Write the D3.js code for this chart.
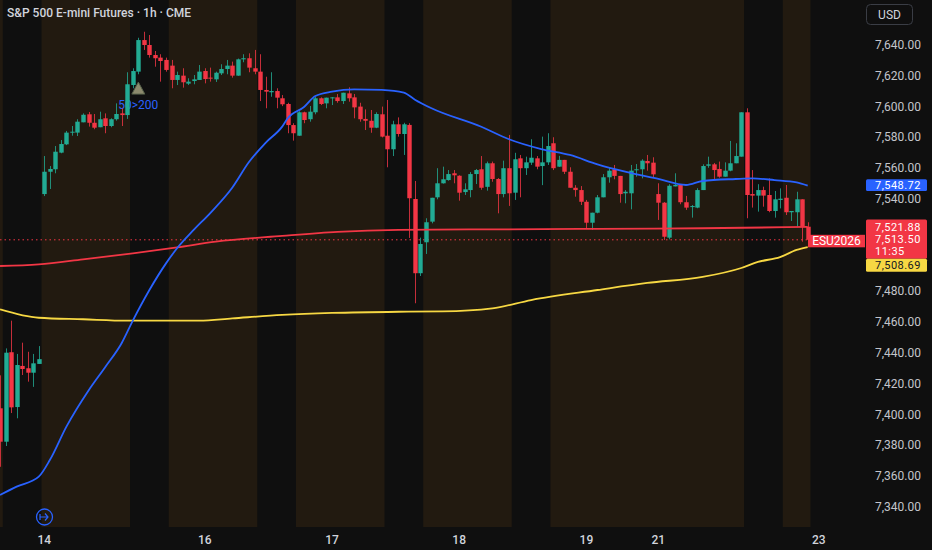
<!DOCTYPE html>
<html><head><meta charset="utf-8">
<script src="https://cdn.jsdelivr.net/npm/d3@7"></script>
<style>html,body{margin:0;padding:0;background:#0f0f0f;overflow:hidden}</style>
</head><body><svg id="c" width="932" height="550"></svg>
<script>
// ---------- DATA ----------
const firstIndex = -8; // index of first (partially visible) candle
const opens = [7404.1,7382.4,7440.5,7404.9,7431.6,7430.1,7427.2,7432.9,
7543.2,7557.7,7559.3,7570.1,7575.5,7583.1,7583.1,7589.8,7595,7589.5,7586.6,7592.4,7587.4,7591.8,7595.6,7594.5,
7614,7622.7,7643.2,7640,7633.5,7631.8,7630.3,
7626.6,7617.3,7620.1,7614.9,7616.6,7617.3,7623.1,7618.8,7617.7,7621.6,7624.4,7626.6,7620.1,7630.7,7631.4,7624.9,
7622.7,7610.8,7609.3,7610.1,7605.4,7601.7,7588,
7581.1,7596.3,7591.8,7596.3,7605.4,7602.1,7605.6,7606,7603.6,7608.6,7606,7600,7592,7590.8,7586.3,7595,
7581.1,7572.3,7588.5,7582.2,7588.1,7540,7491.8,
7511.9,7525.3,7541.1,7550.2,7552.3,7556.7,7555.1,7544.5,7545.8,7556.2,7559.3,7547.9,7563.2,7553,7543.2,7560,
7544.1,7566.4,7560,7563.6,7566.4,7561.4,7563.8,
7576.2,7561,7565.4,7557.7,7547.3,7545.8,7538.2,7524.6,7531.1,7541.1,7554.1,7559.3,7555,7543.7,7543.7,7558.8,7559.3,7564.7,7563.6,
7543.2,7537.6,7514.9,7548.2,7549.6,7537.9,7535,7534.4,7545.8,7561.6,7562.5,7559.5,7554.5,7558.4,7563.2,7567.5,
7596.3,7543.2,7542.2,7545.8,7542.6,7532.2,7539.4,
7540.8,7531.4,7531.4,7539.8,7522];
const highs = [7425.5,7443,7461,7439.4,7446.7,7440.8,7439.4,7444.5,
7567.9,7561.4,7574.4,7578.3,7584.2,7587.4,7591.8,7595.6,7596.5,7595.2,7596.7,7595.6,7592.4,7602.1,7598.9,7622.3,
7624.9,7644.7,7648.6,7646.5,7636.1,7634,7631.8,
7630.3,7622.7,7624.9,7618.4,7620.5,7627,7624.9,7625.3,7622.7,7627.5,7630.3,7629.2,7631.2,7634,7634.6,7636.8,
7634,7619.4,7622.3,7611.9,7607.5,7602.5,7589.2,
7597,7596.7,7600.4,7606.4,7606,7605.8,7606.2,7608.2,7609,7612.5,7608.2,7602.5,7598.2,7597.8,7596.3,7600,
7604.3,7590.8,7593,7589.5,7589.2,7551.7,7514.9,
7527.5,7540.8,7560,7561,7558.8,7558.8,7555.4,7550.2,7557.5,7559.5,7567.9,7564.3,7564.3,7553.6,7564.9,7581.6,
7570,7568.6,7567.5,7578.8,7567.9,7580.5,7582.7,
7580.1,7568,7565.4,7560.6,7549,7548.4,7539.4,7531.1,7542.6,7556.2,7560.6,7562.1,7555,7545.8,7562.1,7562.7,7565.8,7568.6,7567.1,
7550.2,7538,7549.6,7556.7,7549.6,7542,7536.1,7547,7562.5,7567.5,7563.4,7564.3,7563.8,7577.7,7576.2,7596.3,
7598.9,7558.8,7549.6,7548,7553.4,7545.2,7546.9,
7549.1,7532.2,7544.7,7539.8,7524.9];
const lows = [7366.1,7379.6,7401,7397.6,7425.7,7421.4,7418,7432.9,
7541.9,7546.5,7556.7,7569.7,7575,7581.1,7580.9,7589.8,7587,7585.3,7586.6,7582.7,7586.6,7590.9,7587.4,7592,
7611.9,7621,7636.8,7631.8,7625.9,7616.2,7622.7,
7611.9,7614,7612.3,7614,7614.5,7617.3,7615.1,7616.2,7616,7620.5,7621,7618.8,7620,7628.8,7622.3,7621,
7603.6,7598.9,7606.4,7598.9,7600.3,7582.7,7577.9,
7581,7589.2,7590.2,7595,7601,7598.9,7601,7602.5,7601.7,7603.2,7592.4,7590.2,7584.8,7583,7586,7580,
7560.6,7567.9,7580.5,7568.6,7514.7,7472.3,7490,
7504.3,7524.2,7539.8,7550,7551.9,7550.2,7538.9,7542.6,7541.1,7549.7,7546,7545.4,7551.2,7530.7,7541.1,7535.5,
7539.4,7541.1,7555.6,7562.1,7559.3,7549,7562.1,
7558.8,7560.8,7556.2,7547.3,7541.5,7536.1,7521,7519.9,7530.7,7541.1,7550.6,7552.8,7537.6,7537.2,7533.3,7554.5,7553.4,7558.4,7554.1,
7526.4,7513.4,7513.8,7548.2,7536.6,7532.9,7527.9,7534,7545.8,7560.3,7553,7553.8,7554.5,7558,7563.2,7567.5,
7527.5,7534.4,7531.8,7535,7531.4,7527.9,7533.9,
7529.6,7525.7,7522,7512.3,7512.3];
const closes = [7382.4,7440.2,7404.7,7432.2,7429.6,7427.2,7433.3,7436,
7557.7,7559.5,7570.7,7575.7,7583.1,7583.7,7590.2,7594.7,7589.5,7586.3,7591.8,7587.4,7591.8,7595.2,7594.5,7614.5,
7623.1,7643.2,7640,7633.5,7631.4,7629.6,7623.8,
7617.3,7620.5,7615.8,7616.2,7617.7,7622.7,7617.9,7618.4,7622,7624.4,7626.6,7620.1,7630.7,7631.4,7625.3,7622.7,
7610.8,7609.7,7610.1,7605.8,7601.5,7588,7582.7,
7596.3,7591.3,7596.7,7605.4,7601.7,7605.8,7606,7603.6,7609,7605.4,7599.5,7591.8,7590.8,7586.3,7595.2,7580.5,
7572.3,7588.5,7582.2,7588.5,7540.5,7491.8,7510.8,
7524.9,7540.8,7550.2,7552.8,7556.2,7555.4,7544.1,7546.3,7556.2,7558.8,7547.3,7563.2,7553,7543.2,7560,7543.7,
7565.8,7560,7563.8,7566.8,7561,7563.8,7574.4,
7560,7565.4,7557.7,7547.3,7545.8,7538.2,7524.6,7531.1,7541.1,7554.1,7558.4,7555,7543.2,7544.7,7558.4,7559.3,7564.9,7563.2,7556,
7537.6,7515.5,7548.6,7549.2,7537.9,7534.4,7535.4,7545.8,7561.4,7562.5,7558.8,7554.5,7558.4,7563.2,7567.9,7596.3,
7542.6,7542.2,7545.8,7542.2,7532.2,7539.8,7540.2,
7531.4,7532.2,7539.8,7522,7513.5];

// moving averages (candle index, value)
const blueIdx  = [-8,-5,-1,1,4,8,11,14,16,19,22,24,27,30,34,37,40,43,44,47,49,52,56,61,65,67,70,79,84,90,95,100,105,111,116,119,125,128,132,136,138];
const blueVals = [7347.8,7353.2,7359.7,7370.5,7392.2,7415.7,7430.8,7446.5,7461,7480.9,7498.2,7508,7519.9,7530.9,7547.5,7564,7576.5,7587,7592.4,7599.9,7606.9,7609.7,7611.2,7610.8,7609,7604.5,7598.9,7586.9,7578.8,7572.3,7568.6,7562.5,7557.7,7553,7549.1,7551.7,7553,7553.4,7552.3,7550.8,7548.7];
const redIdx   = [-8,-1,7,16,24,31,43,53,64,82,100,119,138];
const redVals  = [7496.5,7497.6,7500.8,7504.7,7508.6,7512.3,7516,7518.6,7519.9,7520.3,7520.6,7521,7521.9];
const yellowIdx  = [-8,-1,7,15,28,34,43,52,64,72,81,88,100,109,119,126,129,133,136,138];
const yellowVals = [7468.4,7462.9,7461.9,7461,7461,7462.5,7464.7,7466,7466.8,7467,7469,7474.4,7480.9,7485.5,7489.4,7495.2,7499.1,7502.3,7506.9,7508.7];

// sessions (brown background), candle index ranges
const sessions = [[-9,-8],[0,15],[23,38],[46,61],[69,84],[92,126],[134,138]];
// date labels
const dateLabels = ["14","16","17","18","19","21","23"];
const dateIdx = [0,29,52,75,98,111,140];
// price ticks
const priceTicks = d3.range(7340, 7641, 20);
// last-value tags
const blueTag = 7548.72, redTag = 7521.88, lastPrice = 7513.50, yellowTag = 7508.69;
const countdown = "11:35";
const symbolLabel = "ESU2026";
const title = "S&P 500 E-mini Futures · 1h · CME";
const signalText = "50>200", signalIdx = 17, signalPrice = 7612, signalTextPrice = 7598.5;

// ---------- CHART ----------
const svg = d3.select("#c");
const W = 932, H = 550, plotRight = 862, plotBottom = 527;
const x = d3.scaleLinear().domain([0, 138]).range([44.3, 807.7]);
const y = d3.scaleLinear().domain([7340, 7640]).range([507, 45]);
const step = x(1) - x(0);
const fmt = d3.format(",.2f");
const UP = "#22ab94", DOWN = "#f23645", BLUE = "#2962ff", YEL = "#f7d843";
const FONT = "Roboto, 'Noto Sans', sans-serif";

svg.append("rect").attr("width", W).attr("height", H).attr("fill", "#0f0f0f");

svg.append("defs").append("clipPath").attr("id","plot")
  .append("rect").attr("x",0).attr("y",0).attr("width",plotRight).attr("height",plotBottom);

const plot = svg.append("g").attr("clip-path","url(#plot)");

plot.selectAll("rect.sess").data(sessions).join("rect")
  .attr("x", d => x(d[0] - 0.5)).attr("width", d => x(d[1] + 0.5) - x(d[0] - 0.5))
  .attr("y", 0).attr("height", plotBottom).attr("fill", "#221a10");

// signal text (under candles)
plot.append("text").attr("x", x(signalIdx)).attr("y", y(signalTextPrice))
  .attr("text-anchor","middle").attr("fill",BLUE)
  .attr("font-family", FONT).attr("font-size", 12).text(signalText);

// price line
plot.append("line").attr("x1",0).attr("x2",x(138)).attr("y1",y(lastPrice)).attr("y2",y(lastPrice))
  .attr("stroke",DOWN).attr("stroke-width",1).attr("stroke-dasharray","1.5,3");

const candles = opens.map((o,i) => ({i: i + firstIndex, o, h: highs[i], l: lows[i], c: closes[i]}));
const cg = plot.append("g");
cg.selectAll("line.w").data(candles).join("line")
  .attr("x1", d => Math.round(x(d.i)) + 0.5).attr("x2", d => Math.round(x(d.i)) + 0.5)
  .attr("y1", d => y(d.h)).attr("y2", d => y(d.l))
  .attr("stroke", d => d.c >= d.o ? UP : DOWN).attr("stroke-width", 1).attr("opacity",0.8);
const bw = step * 0.8;
cg.selectAll("rect.b").data(candles).join("rect")
  .attr("x", d => Math.round(x(d.i)) + 0.5 - bw/2).attr("width", bw)
  .attr("y", d => y(Math.max(d.o,d.c)))
  .attr("height", d => Math.max(1, Math.abs(y(d.o) - y(d.c))))
  .attr("fill", d => d.c >= d.o ? UP : DOWN);

// triangle marker
const tx = x(signalIdx), ty = y(signalPrice);
plot.append("path")
  .attr("d", d3.line()([[tx-6.5, ty+6], [tx+6.5, ty+6], [tx, ty-6]]) + "Z")
  .attr("fill","#8c8a6d").attr("stroke","#55604a").attr("stroke-width",1);

// moving averages
const mkLine = d3.line().x(d => x(d[0])).y(d => y(d[1])).curve(d3.curveMonotoneX);
const mas = [[yellowIdx, yellowVals, YEL], [redIdx, redVals, DOWN], [blueIdx, blueVals, BLUE]];
mas.forEach(([ix, vs, col]) => {
  plot.append("path").attr("d", mkLine(ix.map((k,j) => [k, vs[j]])))
    .attr("fill","none").attr("stroke",col).attr("stroke-width",1.8);
});

// title
svg.append("text").attr("x", 7).attr("y", 17).attr("fill","#d1d4dc")
  .attr("font-family", FONT).attr("font-size", 12).attr("font-weight", 500).text(title);

// tag geometry
const by = y(blueTag), ry = y(redTag), py = y(lastPrice);
const redTop = ry - 7.5, redBottom = py + 19, yelBottom = redBottom + 13;

// price axis (labels hidden behind tags are skipped)
const ax = svg.append("g");
ax.selectAll("text.p").data(priceTicks.filter(d => !(y(d) > redTop - 4 && y(d) < yelBottom + 4)))
  .join("text")
  .attr("x", 875).attr("y", d => y(d) + 4).attr("fill","#c3c5cb")
  .attr("font-family", FONT).attr("font-size", 12).text(d => fmt(d));

// USD button
svg.append("rect").attr("x", 866.5).attr("y", 4.5).attr("width", 46).attr("height", 20).attr("rx", 4)
  .attr("fill","#0f0f0f").attr("stroke","#3a3d45");
svg.append("text").attr("x", 889.5).attr("y", 18.5).attr("text-anchor","middle").attr("fill","#d1d4dc")
  .attr("font-family", FONT).attr("font-size", 12).text("USD");

// tags
function tag(yTop, yBot, col) {
  svg.append("rect").attr("x", 866).attr("y", yTop).attr("width", 61).attr("height", yBot - yTop).attr("fill", col).attr("rx",1.5);
}
function tagText(txt, yy, col) {
  svg.append("text").attr("x", 875).attr("y", yy).attr("fill", col)
    .attr("font-family", FONT).attr("font-size", 11).attr("letter-spacing", 0.45).text(txt);
}
tag(by - 6.2, by + 5.5, BLUE); tagText(fmt(blueTag), by + 3.8, "#ffffff");
tag(redTop, redBottom, DOWN);
tagText(fmt(redTag), ry + 3.6, "#ffffff");
tagText(fmt(lastPrice), py + 3.5, "#ffffff");
tagText(countdown, py + 15.5, "#ffffff");
tag(redBottom, yelBottom, YEL);
tagText(fmt(yellowTag), redBottom + 9.8, "#131722");

// symbol label
svg.append("rect").attr("x", 808).attr("y", py - 5).attr("width", 57).attr("height", 12.5).attr("fill", DOWN);
svg.append("text").attr("x", 836.5).attr("y", py + 5).attr("text-anchor","middle").attr("fill","#ffffff")
  .attr("font-family", FONT).attr("font-size", 12).text(symbolLabel);

// date labels
svg.selectAll("text.d").data(dateLabels).join("text")
  .attr("x", (d,i) => x(dateIdx[i])).attr("y", 544).attr("text-anchor","middle")
  .attr("fill","#d1d4dc").attr("font-family", FONT).attr("font-size", 12).attr("font-weight",500).text(d => d);

// go-to-realtime icon
const ic = svg.append("g").attr("transform", "translate(44.5,517)");
ic.append("circle").attr("r", 8).attr("fill","none").attr("stroke",BLUE).attr("stroke-width",1.3);
ic.append("path").attr("d","M-4.5,0H3.5M0.5,-3.5L3.5,0L0.5,3.5M-4.5,-3V3").attr("fill","none")
  .attr("stroke",BLUE).attr("stroke-width",1.2);
</script></body></html>
